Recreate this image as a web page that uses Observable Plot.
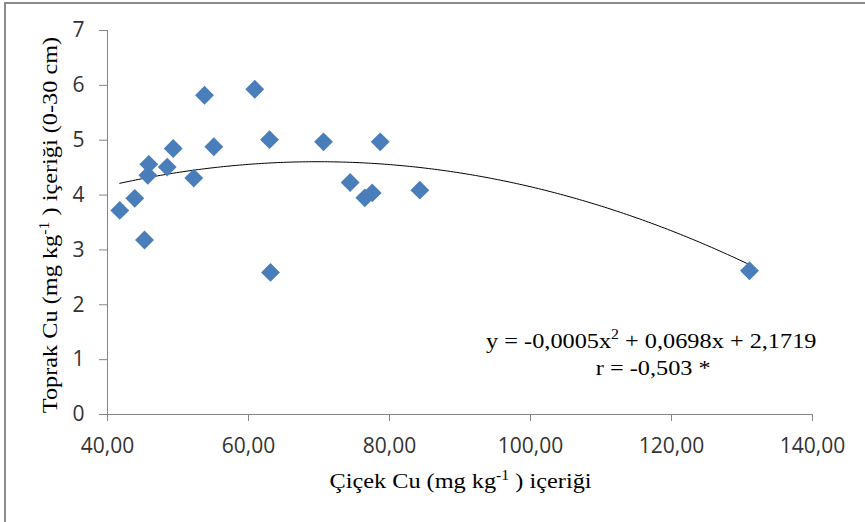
<!DOCTYPE html>
<html>
<head>
<meta charset="utf-8">
<script src="https://cdn.jsdelivr.net/npm/d3@7"></script>
<script src="https://cdn.jsdelivr.net/npm/@observablehq/plot@0.6"></script>
<style>
  html, body { margin: 0; padding: 0; background: #fff; }
  #wrap { position: relative; width: 865px; height: 522px; overflow: hidden; background: #fff; }
  #frame { position: absolute; left: 4px; top: 2px; width: 900px; height: 560px;
           border: 2px solid #8a8a8a; box-sizing: border-box; pointer-events: none; }
  #chart { position: absolute; left: 0; top: 0; }
</style>
</head>
<body>
<div id="wrap">
  <div id="chart"></div>
  <div id="frame"></div>
</div>
<script>
// Flower Cu (x) vs. soil Cu 0-30 cm (y), mg kg-1
const cicekCu = [41.74, 43.87, 45.25, 45.72, 45.86, 48.47, 49.32, 52.24, 53.76, 55.08,
                 60.89, 62.98, 63.12, 70.64, 74.42, 76.50, 77.55, 78.68, 84.30, 131.06];
const toprakCu = [3.72, 3.94, 3.18, 4.36, 4.56, 4.51, 4.85, 4.31, 5.82, 4.88,
                  5.93, 5.01, 2.59, 4.97, 4.23, 3.95, 4.04, 4.97, 4.09, 2.62];

// Second-order polynomial fit: y = a*x^2 + b*x + c
const trendCoef = [-0.0005, 0.0698, 2.1719];
const rValue = "-0,503";

const xTicks = [40, 60, 80, 100, 120, 140];
const yTicks = [0, 1, 2, 3, 4, 5, 6, 7];

const points = cicekCu.map((x, i) => ({x, y: toprakCu[i]}));

const [a, b, c] = trendCoef;
const xMin = d3.min(cicekCu), xMax = d3.max(cicekCu);
const trend = d3.range(0, 201).map(i => {
  const x = xMin + (xMax - xMin) * i / 200;
  return {x, y: a * x * x + b * x + c};
});

const fmtComma = (v, d) => v.toFixed(d).replace(".", ",");
const axisGray = "#868686";
const labelColor = "#333333";

const plot = Plot.plot({
  width: 865,
  height: 522,
  marginLeft: 107,
  marginRight: 53,
  marginTop: 30,
  marginBottom: 108,
  x: {domain: [40, 140]},
  y: {domain: [0, 7]},
  style: {
    fontFamily: "'Open Sans', 'DejaVu Sans', sans-serif",
    fontSize: "21px",
    color: labelColor,
    background: "transparent",
    overflow: "visible"
  },
  marks: [
    Plot.ruleY([0], {stroke: axisGray, strokeWidth: 1}),
    Plot.ruleX([40], {stroke: axisGray, strokeWidth: 1}),
    Plot.axisX(xTicks, {
      tickSize: 7, tickPadding: 17, label: null,
      tickFormat: d => fmtComma(d, 2),
      stroke: axisGray, fill: labelColor
    }),
    Plot.axisY(yTicks, {
      tickSize: 8, tickPadding: 15, label: null,
      tickFormat: d => String(d),
      stroke: axisGray, fill: labelColor
    }),
    Plot.line(trend, {x: "x", y: "y", stroke: "#000", strokeWidth: 1}),
    Plot.dot(points, {x: "x", y: "y", symbol: "diamond2", r: 8.5, fill: "#4a7ebb", stroke: "none"})
  ]
});

document.getElementById("chart").appendChild(plot);

const svg = d3.select(plot);
const sx = plot.scale("x"), sy = plot.scale("y");
const serif = "'Liberation Serif', 'Times New Roman', serif";
const serifSize = 21.5;
const stretch = 1.13; // slightly wide serif lettering

// text with a superscript segment
function richText(g, parts, size) {
  parts.forEach(p => {
    const t = g.append("tspan").text(p.t);
    if (p.sup) {
      t.attr("font-size", size * 0.65).attr("dy", -size * 0.38);
    } else if (p.after) {
      t.attr("dy", size * 0.38);
    }
  });
}

function serifText(transform) {
  return svg.append("text")
    .attr("transform", transform)
    .attr("text-anchor", "middle")
    .attr("font-family", serif)
    .attr("font-size", serifSize)
    .attr("fill", "#000");
}

// x axis title
const xMid = (sx.apply(40) + sx.apply(140)) / 2;
const xt = serifText(`translate(${xMid + 1},488) scale(${stretch},1)`);
richText(xt, [{t: "Çiçek Cu (mg kg"}, {t: "-1", sup: true}, {t: " ) içeriği", after: true}], serifSize);

// y axis title
const yMid = (sy.apply(0) + sy.apply(7)) / 2;
const yt = serifText(`translate(57,${yMid + 3}) rotate(-90) scale(${stretch},1)`);
richText(yt, [{t: "Toprak Cu (mg kg"}, {t: "-1", sup: true}, {t: " ) içeriği (0-30 cm)", after: true}], serifSize);

// regression equation and correlation
const eqX = sx.apply(117.2), eqY = sy.apply(1.21);
const eq = serifText(`translate(${eqX},${eqY}) scale(${stretch},1)`);
richText(eq, [
  {t: `y = ${fmtComma(a, 4)}x`}, {t: "2", sup: true},
  {t: ` + ${fmtComma(b, 4)}x + ${fmtComma(c, 4)}`, after: true}
], serifSize);

serifText(`translate(${eqX + 2},${eqY + 27}) scale(${stretch},1)`)
  .text(`r = ${rValue} *`);
</script>
</body>
</html>
